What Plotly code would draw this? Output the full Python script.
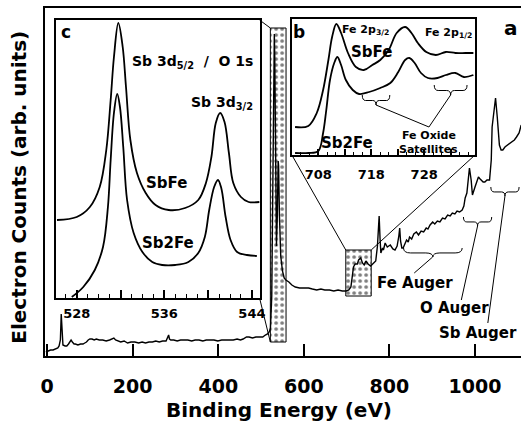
import plotly.graph_objects as go

W, H = 527, 426
FONT = "DejaVu Sans"

# ---------------- data ----------------
# survey spectrum: binding energy (eV) and counts (arb. units)
survey_ev = [-3, 3, 8, 14, 20, 25, 28, 31, 33, 35, 37, 42, 46, 50, 54, 56, 59, 63, 66, 72, 78, 84, 88, 92,
             96, 100, 105, 110, 115, 122, 130, 138, 146, 151, 156, 160, 165, 172, 180, 188, 196, 205, 214,
             222, 230, 238, 246, 254, 262, 270, 278, 282, 284, 286, 289, 296, 304, 312, 320, 329, 338, 346,
             355, 364, 372, 381, 390, 399, 408, 417, 426, 435, 444, 452, 458, 462, 466, 472, 480, 488, 496,
             504, 510, 515, 519, 522, 525, 528, 530, 531, 532, 534, 536, 538, 540, 541, 543, 546, 550, 554,
             558, 565, 572, 580, 590, 600, 611, 620, 630, 640, 649, 660, 670, 680, 690, 699, 705, 710, 713,
             716, 720, 725, 728, 733, 737, 741, 745, 750, 756, 760, 764, 768, 772, 776, 778, 780, 784, 786,
             790, 795, 802, 808, 813, 818, 822, 824, 826, 829, 832, 836, 840, 844, 847, 852, 857, 863, 868,
             874, 880, 886, 890, 895, 901, 906, 912, 918, 924, 930, 936, 942, 947, 953, 958, 964, 970, 974,
             977, 981, 984, 987, 991, 994, 1000, 1004, 1008, 1012, 1015, 1019, 1023, 1028, 1034, 1038, 1040,
             1044, 1048, 1052, 1057, 1061, 1065, 1070, 1076, 1082, 1087, 1092, 1097, 1103, 1108]
survey_counts = [4, 5, 6, 6, 7, 8, 10, 16, 42, 20, 11, 10, 10, 12, 15, 16, 14, 12, 12, 11, 12, 12, 13, 14,
                 16, 17, 17, 16, 17, 16, 16, 15, 16, 17, 18, 16, 15, 14, 15, 13, 14, 14, 13,
                 14, 13, 14, 14, 15, 14, 15, 15, 18, 21, 17, 16, 16, 15, 16, 16, 16, 15, 16,
                 16, 15, 16, 16, 16, 15, 16, 16, 16, 16, 17, 16, 17, 18, 19, 19, 18, 19, 19,
                 19, 21, 22, 24, 28, 60, 200, 300, 322, 300, 180, 110, 140, 195, 190, 140, 100, 85, 78,
                 76, 74, 71, 69, 68, 68, 68, 67, 66, 67, 66, 66, 65, 66, 65, 65, 66, 69, 78,
                 89, 92, 92, 96, 98, 93, 91, 95, 92, 90, 92, 93, 95, 110, 140, 118, 103, 108, 106,
                 113, 109, 111, 107, 106, 110, 120, 128, 115, 108, 108, 112, 116, 114, 119, 117, 122, 124, 121,
                 125, 124, 128, 127, 131, 134, 132, 135, 134, 138, 137, 141, 140, 143, 142, 145, 144, 146, 150,
                 158, 163, 176, 188, 176, 161, 169, 174, 179, 177, 176, 174, 174, 176, 176, 196, 229,
                 245, 258, 239, 211, 206, 206, 209, 211, 213, 215, 216, 219, 223, 231]

# inset c: Sb 3d / O 1s region
c_ev_sbfe = [526.2, 528.0, 529.2, 530.1, 530.7, 531.1, 531.4, 531.8, 532.2, 532.5, 532.9, 533.5, 534.3,
             535.2, 536.4, 537.9, 539.1, 539.8, 540.3, 540.7, 541.1, 541.5, 541.9, 542.3, 543.0, 543.7, 544.7]
c_sbfe = [78, 81, 91, 111, 148, 198, 241, 275, 251, 211, 158, 125, 105,
          93, 88, 90, 98, 115, 141, 175, 185, 176, 145, 115, 101, 96, 96]
c_ev_sb2fe = [527.55, 528.6, 529.65, 530.4, 530.85, 531.1, 531.4, 531.7, 531.95, 532.25, 532.6, 533.2,
              534.0, 534.9, 535.8, 537.0, 538.2, 539.1, 539.7, 540.1, 540.55, 540.9, 541.2, 541.6, 542.05,
              542.65, 543.55, 544.45]
c_sb2fe = [1, 11, 28, 51, 91, 138, 185, 204, 191, 151, 98, 65,
           46, 36, 33, 33, 36, 45, 61, 88, 111, 118, 110, 81, 58,
           46, 43, 42]

# inset b: Fe 2p region
b_ev_sbfe = [703.6, 706.1, 707.7, 708.9, 709.9, 710.6, 711.4, 712.3, 713.6, 715.1, 716.6, 718.2, 719.7,
             721.3, 722.8, 724.4, 725.6, 726.8, 728.4, 730.2, 732.1, 733.9, 735.8, 737.3]
b_sbfe = [28, 29, 42, 65, 95, 118, 131, 122, 102, 88, 85, 90, 95,
          105, 122, 128, 122, 112, 103, 100, 103, 102, 102, 102]
b_ev_sb2fe = [703.6, 706.1, 708.0, 708.9, 709.5, 710.2, 711.0, 711.6, 712.3, 713.2, 714.5, 715.7, 717.6,
              719.7, 721.6, 723.1, 724.4, 725.2, 726.2, 727.4, 728.7, 730.5, 732.1, 733.9, 735.5, 737.3]
b_sb2fe = [2, 2, 4, 22, 45, 75, 92, 98, 90, 75, 65, 61, 63,
           67, 72, 83, 95, 97, 92, 82, 77, 77, 80, 82, 78, 80]

# ticks
main_ticks = [0, 200, 400, 600, 800, 1000]
c_ticks = [528, 536, 544]
c_ticks_unlabeled = [532, 540]
c_minor = [527, 529, 530, 531, 533, 534, 535, 537, 538, 539, 541, 542, 543]
b_ticks = [708, 718, 728]
b_ticks_unlabeled = [713, 723, 733]
b_minor = [704.67, 706.33, 709.67, 711.33, 714.67, 716.33, 719.67, 721.33, 724.67, 726.33,
           729.67, 731.33, 734.67, 736.33]

# zoomed regions marked on the survey (eV range, counts range)
zoom_c_ev = [521.7, 558.4]
zoom_c_cnt = [14, 328]
zoom_b_ev = [698, 757.4]
zoom_b_cnt = [60, 106]

# Auger brackets on survey: (eV start, eV end, top counts)
main_braces = [(833, 970, 108), (973, 1039, 139), (1037, 1103, 169)]
main_pointers = [((901, 99), (858, 83)), ((1006, 130), (968, 56)), ((1070, 160), (1030, 33))]
b_braces = [(716.3, 721.5, 60), (729.9, 736.1, 70)]
b_pointer_end = (728.9, 28)

# ---------------- layout geometry ----------------
main_xr = [-4.6, 1107.5]; main_yr = [0, 348]
c_xr = [526.1, 544.7]; c_yr = [0, 278]
b_xr = [703.0, 737.6]; b_yr = [0, 136]
main_xd = [41 / W, 1.0]; main_yd = [70 / H, 418 / H]
c_xd = [52 / W, 260 / W]; c_yd = [128 / H, 406 / H]
b_xd = [293 / W, 480 / W]; b_yd = [271 / H, 407 / H]


def to_paper(v, r, d):
    return d[0] + (v - r[0]) / (r[1] - r[0]) * (d[1] - d[0])


fig = go.Figure()

# stippled zoom rectangles
for ex, ey in [(zoom_c_ev, zoom_c_cnt), (zoom_b_ev, zoom_b_cnt)]:
    fig.add_trace(go.Scatter(
        x=[ex[0], ex[1], ex[1], ex[0], ex[0]], y=[ey[0], ey[0], ey[1], ey[1], ey[0]],
        mode="lines", fill="toself", line=dict(color="black", width=1),
        fillcolor="white",
        fillpattern=dict(shape=".", size=6, solidity=0.3, fgcolor="black", bgcolor="white"),
        xaxis="x", yaxis="y", showlegend=False, hoverinfo="skip"))

fig.add_trace(go.Scatter(x=survey_ev, y=survey_counts, mode="lines",
                         line=dict(color="black", width=1.4), xaxis="x", yaxis="y", showlegend=False))

for xs, ys in [(c_ev_sbfe, c_sbfe), (c_ev_sb2fe, c_sb2fe)]:
    fig.add_trace(go.Scatter(x=xs, y=ys, mode="lines", line=dict(color="black", width=1.8, shape="spline"),
                             xaxis="x2", yaxis="y2", showlegend=False))
for xs, ys in [(b_ev_sbfe, b_sbfe), (b_ev_sb2fe, b_sb2fe)]:
    fig.add_trace(go.Scatter(x=xs, y=ys, mode="lines", line=dict(color="black", width=1.8, shape="spline"),
                             xaxis="x3", yaxis="y3", showlegend=False))
# empty traces so the overlay tick axes are drawn
fig.add_trace(go.Scatter(x=[], y=[], xaxis="x4", yaxis="y2", showlegend=False))
fig.add_trace(go.Scatter(x=[], y=[], xaxis="x5", yaxis="y3", showlegend=False))

shapes = []


def brace_path(x0, x1, ytop, h):
    q = (x1 - x0) * 0.12
    xm = (x0 + x1) / 2
    ymid = ytop - h * 0.55
    ytip = ytop - h
    return (f"M {x0},{ytop} Q {x0},{ymid} {x0+q},{ymid} L {xm-q},{ymid} "
            f"Q {xm},{ymid} {xm},{ytip} Q {xm},{ymid} {xm+q},{ymid} L {x1-q},{ymid} "
            f"Q {x1},{ymid} {x1},{ytop}")


for x0, x1, yt in main_braces:
    shapes.append(dict(type="path", path=brace_path(x0, x1, yt, 9), xref="x", yref="y",
                       line=dict(color="black", width=1)))
for (p0, p1) in main_pointers:
    shapes.append(dict(type="line", x0=p0[0], y0=p0[1], x1=p1[0], y1=p1[1], xref="x", yref="y",
                       line=dict(color="black", width=1)))
for x0, x1, yt in b_braces:
    shapes.append(dict(type="path", path=brace_path(x0, x1, yt, 10), xref="x3", yref="y3",
                       line=dict(color="black", width=1)))
    xm = (x0 + x1) / 2
    shapes.append(dict(type="line", x0=xm, y0=yt - 10, x1=b_pointer_end[0], y1=b_pointer_end[1],
                       xref="x3", yref="y3", line=dict(color="black", width=1)))

# connector lines from insets to zoom rectangles
r1x0 = to_paper(zoom_c_ev[0], main_xr, main_xd)
r1y0 = to_paper(zoom_c_cnt[0], main_yr, main_yd)
r1y1 = to_paper(zoom_c_cnt[1], main_yr, main_yd)
r2x0 = to_paper(zoom_b_ev[0], main_xr, main_xd)
r2x1 = to_paper(zoom_b_ev[1], main_xr, main_xd)
r2y1 = to_paper(zoom_b_cnt[1], main_yr, main_yd)
for (a, b, c, d) in [(c_xd[1], c_yd[1], r1x0, r1y1), (c_xd[1], c_yd[0], r1x0, r1y0),
                     (b_xd[0], b_yd[0], r2x0, r2y1), (b_xd[1], b_yd[0], r2x1, r2y1)]:
    shapes.append(dict(type="line", x0=a, y0=b, x1=c, y1=d, xref="paper", yref="paper",
                       line=dict(color="black", width=1)))

tf = dict(family=FONT, size=19, color="black", weight="bold")
itf = dict(family=FONT, size=13, color="black", weight="bold")

fig.update_layout(
    width=W, height=H, margin=dict(l=0, r=0, t=0, b=0),
    paper_bgcolor="white", plot_bgcolor="white", showlegend=False,
    font=dict(family=FONT, color="black"),
    xaxis=dict(domain=main_xd, range=main_xr, showline=True, linecolor="black", linewidth=2, mirror=True,
               ticks="inside", ticklen=12, tickwidth=2, tickcolor="black", tickvals=main_ticks,
               tickfont=tf, showgrid=False, zeroline=False, ticklabelstandoff=12),
    yaxis=dict(domain=main_yd, range=main_yr, showline=True, linecolor="black", linewidth=2,
               ticks="", showticklabels=False, showgrid=False, zeroline=False),
    xaxis2=dict(domain=c_xd, range=c_xr, anchor="y2", showline=True, linecolor="black", linewidth=2,
                mirror=True, ticks="inside", ticklen=8, tickwidth=1.5, tickcolor="black",
                tickvals=c_ticks, tickfont=itf, showgrid=False, zeroline=False,
                ticklabelstandoff=2,
                minor=dict(tickvals=c_minor, ticks="inside", ticklen=4, tickwidth=1, tickcolor="black",
                           showgrid=False)),
    xaxis4=dict(overlaying="x2", anchor="y2", range=c_xr, showline=False, ticks="inside", ticklen=8,
                tickwidth=1.5, tickcolor="black", tickvals=c_ticks_unlabeled, showticklabels=False,
                showgrid=False, zeroline=False),
    yaxis2=dict(domain=c_yd, range=c_yr, anchor="x2", showline=True, linecolor="black", linewidth=2,
                mirror=True, ticks="", showticklabels=False, showgrid=False, zeroline=False),
    xaxis3=dict(domain=b_xd, range=b_xr, anchor="y3", showline=True, linecolor="black", linewidth=2,
                mirror=True, ticks="inside", ticklen=6, tickwidth=1.5, tickcolor="black",
                tickvals=b_ticks, tickfont=itf, showgrid=False, zeroline=False,
                ticklabelstandoff=6,
                minor=dict(tickvals=b_minor, ticks="inside", ticklen=3, tickwidth=1, tickcolor="black",
                           showgrid=False)),
    xaxis5=dict(overlaying="x3", anchor="y3", range=b_xr, showline=False, ticks="inside", ticklen=6,
                tickwidth=1.5, tickcolor="black", tickvals=b_ticks_unlabeled, showticklabels=False,
                showgrid=False, zeroline=False),
    yaxis3=dict(domain=b_yd, range=b_yr, anchor="x3", showline=True, linecolor="black", linewidth=2,
                mirror=True, ticks="", showticklabels=False, showgrid=False, zeroline=False),
    shapes=shapes,
)


def ann(text, x, y, xref, yref, size, xanchor="center", weight="bold"):
    fig.add_annotation(text=text, x=x, y=y, xref=xref, yref=yref, showarrow=False,
                       xanchor=xanchor, yanchor="middle",
                       font=dict(family=FONT, size=size, color="black", weight=weight))


ann("Binding Energy (eV)", 280 / W, 1 - 410 / H, "paper", "paper", 20)
fig.add_annotation(text="Electron Counts (arb. units)", x=14 / W, y=1 - 187 / H, xref="paper", yref="paper",
                   showarrow=False, textangle=-90, xanchor="center", yanchor="middle",
                   font=dict(family=FONT, size=20, color="black", weight="bold"))
ann("a", 1085, 328, "x", "y", 20)
ann("Fe Auger", 860, 73, "x", "y", 15)
ann("O Auger", 952, 48, "x", "y", 15)
ann("Sb Auger", 1008, 23, "x", "y", 15)

ann("c", 527.0, 266, "x2", "y2", 17)
ann("Sb 3d<sub>5/2</sub>  /  O 1s", 538.6, 236, "x2", "y2", 14)
ann("Sb 3d<sub>3/2</sub>", 541.3, 195, "x2", "y2", 14)
ann("SbFe", 536.2, 115, "x2", "y2", 15)
ann("Sb2Fe", 536.3, 55, "x2", "y2", 15)

ann("b", 704.3, 123, "x3", "y3", 17)
ann("Fe 2p<sub>3/2</sub>", 716.9, 125, "x3", "y3", 11)
ann("Fe 2p<sub>1/2</sub>", 732.6, 122, "x3", "y3", 11)
ann("SbFe", 718.0, 103, "x3", "y3", 15)
ann("Sb2Fe", 713.4, 12, "x3", "y3", 15)
ann("Fe Oxide", 728.9, 20, "x3", "y3", 11)
ann("Satellites", 728.9, 6, "x3", "y3", 11)

fig.write_html("out.html")
